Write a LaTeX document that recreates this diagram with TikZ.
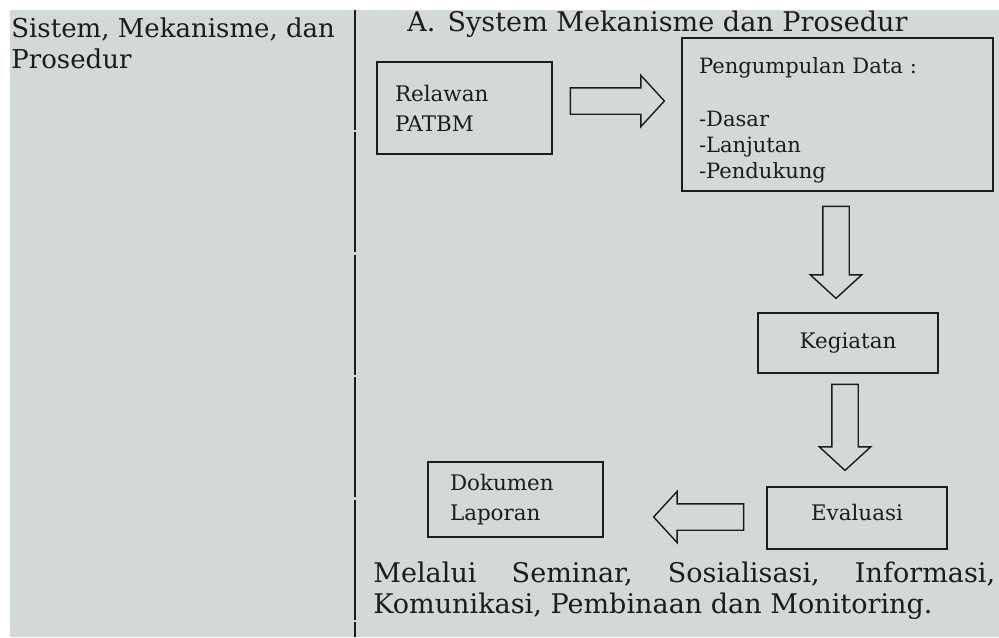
\documentclass[tikz,border=0pt]{standalone}
\usepackage{fontspec}
\setmainfont{DejaVu Serif}
\usepackage{tikz}
\usetikzlibrary{shapes.geometric, shapes.arrows, arrows, calc, positioning}
\definecolor{paper}{RGB}{211,216,217}
\definecolor{ink}{RGB}{28,28,28}
\newcommand{\headfont}{\fontsize{15.4}{17.6}\selectfont}
\newcommand{\sidefont}{\fontsize{14.8}{17.6}\selectfont}
\newcommand{\boxfont}{\fontsize{12.2}{17.2}\selectfont}
\newcommand{\listfont}{\fontsize{12}{14.8}\selectfont}
\tikzstyle{block} = [rectangle, draw=ink, line width=0.8pt, inner sep=0pt, text=ink, font=\boxfont]
\tikzstyle{fatarrow} = [single arrow, draw=ink, line width=0.8pt, inner sep=0.25cm, minimum width=1cm, single arrow head extend=0.25cm, single arrow tip angle=95, anchor=tail]
\tikzstyle{caption} = [inner sep=0pt, text=ink, font=\headfont, align=left]

\begin{document}
\begin{tikzpicture}[x=0.02cm, y=-0.02cm]
		\useasboundingbox (0,0) rectangle (999,637);
		\fill [white] (0,0) rectangle (999,637);
		\fill [paper] (10,10) rectangle (999,637);
		\draw [ink, line width=0.6pt, dash pattern=on 2.4cm off 0.05cm] (355,10) -- (355,637);
		\node (Side) [caption, font=\sidefont, anchor=base west] at (11,68) {Sistem, Mekanisme, dan\\Prosedur};
		\node (Title) [caption, anchor=base west] at (407,31) {A.\hspace{0.45em}System Mekanisme dan Prosedur};
		\node (Relawan) [block, minimum width=3.5cm, minimum height=1.84cm, text width=2.78cm, align=left] at (464.5,108) {Relawan\\PATBM};
		\node (Data) [block, minimum width=6.22cm, minimum height=3.06cm, text width=5.54cm, align=left, font=\listfont] at (837.5,114.5) {\rule{0pt}{16pt}Pengumpulan Data :\\[15.2pt]-Dasar\\-Lanjutan\\-Pendukung};
		\node (Kegiatan) [block, minimum width=3.6cm, minimum height=1.2cm] at (848,343) {Kegiatan};
		\node (Evaluasi) [block, minimum width=3.6cm, minimum height=1.24cm, text depth=6pt] at (857,518) {Evaluasi};
		\node (Dokumen) [block, minimum width=3.5cm, minimum height=1.5cm, text width=2.62cm, align=left] at (515.5,499.5) {Dokumen\\Laporan};
		\node (ToData) [fatarrow, minimum height=1.88cm] at ($(Relawan.east)+(17,-7)$) {};
		\node (ToKegiatan) [fatarrow, minimum height=1.84cm, shape border rotate=270] at ($(Data.south)+(-1.5,14)$) {};
		\node (ToEvaluasi) [fatarrow, minimum height=1.72cm, shape border rotate=270] at ($(Kegiatan.south)+(-3,10)$) {};
		\node (ToDokumen) [fatarrow, minimum height=1.8cm, shape border rotate=180] at ($(Evaluasi.west)+(-22,-1)$) {};
		\node (Means) [caption, anchor=base west] at (373,613) {\hbox to 12.44cm{Melalui\hfill Seminar,\hfill Sosialisasi,\hfill Informasi,}\\Komunikasi, Pembinaan dan Monitoring.};
	\end{tikzpicture}
\end{document}
